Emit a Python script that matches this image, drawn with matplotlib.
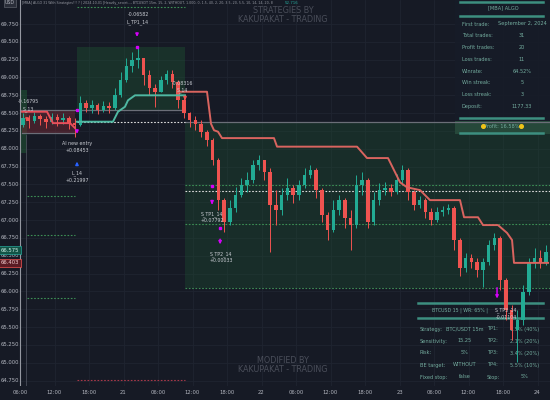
import matplotlib
matplotlib.use("Agg")
import matplotlib.pyplot as plt
from matplotlib.patches import Rectangle
from matplotlib import font_manager
import matplotlib.transforms as mtrans

names = {f.name for f in font_manager.fontManager.ttflist}
if 'Liberation Sans Narrow' in names:
    plt.rcParams['font.family'] = ['Liberation Sans Narrow', 'DejaVu Sans']
else:
    plt.rcParams['font.family'] = ['DejaVu Sans']

# hourly candles from 20th 06:00
first_open = 68.33
close = [68.43, 68.39, 68.46, 68.42, 68.38, 68.45, 68.40, 68.43, 68.36, 68.33,
         68.64, 68.57, 68.61, 68.54, 68.60, 68.57, 68.75, 68.96, 69.16, 69.25,
         69.27, 69.03, 68.85, 68.80, 68.96, 69.05, 68.94, 68.68, 68.50, 68.40,
         68.35, 68.24, 68.12, 67.84, 67.28, 66.97, 67.17, 67.35, 67.49, 67.56,
         67.77, 67.84, 67.67, 67.21, 67.14, 67.35, 67.45, 67.35, 67.49, 67.63,
         67.70, 67.42, 67.07, 66.86, 67.14, 67.28, 67.03, 66.93, 67.49, 67.56,
         66.97, 67.28, 67.42, 67.45, 67.39, 67.56, 67.70, 67.39, 67.21, 67.28,
         67.11, 67.00, 67.11, 67.14, 67.17, 66.72, 66.33, 66.47, 66.41, 66.30,
         66.41, 66.65, 66.75, 66.16, 65.74, 65.46, 65.60, 65.99, 66.41, 66.47,
         66.41, 66.55]
high = [68.50, 68.47, 68.52, 68.49, 68.46, 68.50, 68.49, 68.50, 68.46, 68.43,
        68.74, 68.68, 68.68, 68.64, 68.67, 68.66, 68.85, 69.08, 69.27, 69.36,
        69.43, 69.27, 69.10, 68.91, 69.02, 69.10, 69.10, 68.96, 68.71, 68.52,
        68.46, 68.40, 68.26, 68.15, 67.87, 67.31, 67.28, 67.46, 67.59, 67.67,
        67.84, 67.91, 67.84, 67.73, 67.42, 67.45, 67.59, 67.49, 67.56, 67.73,
        67.77, 67.73, 67.45, 67.11, 67.28, 67.35, 67.31, 67.14, 67.63, 67.67,
        67.59, 67.39, 67.52, 67.53, 67.51, 67.65, 67.77, 67.73, 67.42, 67.34,
        67.31, 67.17, 67.18, 67.20, 67.23, 67.20, 66.75, 66.54, 66.52, 66.47,
        66.47, 66.72, 66.82, 66.78, 66.19, 65.81, 65.74, 66.09, 66.47, 66.61,
        66.58, 66.65]
low = [68.31, 68.29, 68.36, 68.33, 68.29, 68.35, 68.32, 68.35, 68.28, 68.17,
       68.32, 68.52, 68.50, 68.49, 68.52, 68.50, 68.54, 68.73, 68.94, 69.08,
       69.13, 68.89, 68.75, 68.59, 68.80, 68.91, 68.85, 68.57, 68.43, 68.31,
       68.26, 68.17, 68.04, 67.77, 67.14, 66.83, 66.93, 67.11, 67.32, 67.39,
       67.52, 67.70, 67.56, 66.55, 66.93, 67.07, 67.28, 67.24, 67.28, 67.45,
       67.59, 67.31, 66.97, 66.72, 66.83, 67.07, 66.89, 66.58, 66.89, 67.35,
       66.89, 66.93, 67.21, 67.35, 67.34, 67.37, 67.52, 67.28, 67.14, 67.17,
       67.03, 66.93, 66.97, 67.06, 67.09, 66.58, 66.22, 66.27, 66.33, 66.20,
       66.06, 66.37, 66.58, 66.02, 65.60, 65.32, 65.01, 65.53, 65.95, 66.33,
       66.33, 66.37]

price_ticks = [69.75, 69.5, 69.25, 69.0, 68.75, 68.5, 68.25, 68.0, 67.75, 67.5,
               67.25, 67.0, 66.75, 66.5, 66.25, 66.0, 65.75, 65.5, 65.25, 65.0, 64.75]
time_ticks = [0, 6, 12, 18, 24, 30, 36, 42, 48, 54, 60, 66, 72, 78, 84, 90]
time_labels = ['06:00', '12:00', '18:00', '21', '06:00', '12:00', '18:00', '22',
               '06:00', '12:00', '18:00', '23', '06:00', '12:00', '18:00', '24']

# trailing stops
red_a_t = [0.35, 4.7, 5.74, 8.7, 9.57]
red_a_p = [68.52, 68.52, 68.36, 68.36, 68.29]
red_b_t = [27.4, 32.52, 33.22, 33.74, 34.43, 35.13, 44.17, 44.70, 58.61, 60.35,
           64.0, 66.09, 67.30, 69.57, 71.30, 76.52, 77.22, 79.65, 80.52, 83.13,
           84.70, 85.57, 85.91, 91.83]
red_b_p = [68.80, 68.80, 68.35, 68.26, 68.24, 68.15, 68.15, 68.03, 68.03, 67.87,
           67.87, 67.53, 67.46, 67.42, 67.28, 67.28, 67.04, 67.04, 66.93, 66.93,
           66.82, 66.72, 66.40, 66.40]
teal_t = [9.91, 16.17, 17.04, 18.26, 18.78, 20.0, 28.7]
teal_p = [68.38, 68.38, 68.52, 68.59, 68.68, 68.75, 68.75]

stats_labels = ['First trade:', 'Total trades:', 'Profit trades:', 'Loss trades:',
                'Winrate:', 'Win streak:', 'Loss streak:', 'Deposit:']
stats_values = ['September 2, 2024', '31', '20', '11', '64.52%', '5', '3', '1177.33']
set_rows = [['Strategy:', 'BTC/USDT 15m', 'TP1:', '1.5% (40%)'],
            ['Sensitivity:', '15.25', 'TP2:', '2.1% (20%)'],
            ['Risk:', '5%', 'TP3:', '3.4% (20%)'],
            ['BE target:', 'WITHOUT', 'TP4:', '5.5% (10%)'],
            ['Fixed stop:', 'false', 'Stop:', '5%']]

BG = '#161a25'
UP = '#22ab94'
DN = '#ef5350'
TXT = '#c9ccd3'
TBL = '#74ad9f'
MAG = '#d500f9'

fig = plt.figure(figsize=(5.5, 4), dpi=100, facecolor=BG)
ax = fig.add_axes([0, 14 / 400, 1, 386 / 400])
ax.set_facecolor(BG)
ax.set_xlim(-3.478, 92.17)
ax.set_ylim(64.673, 70.087)
for s in ax.spines.values():
    s.set_visible(False)
ax.set_xticks([])
ax.set_yticks([])

def ap(x, y):
    # pixel position -> axes fraction
    return x / 550, (386 - y) / 386

yb = mtrans.blended_transform_factory(ax.transAxes, ax.transData)
xb = mtrans.blended_transform_factory(ax.transData, ax.transAxes)

for p in price_ticks:
    ax.axhline(p, color='#1f2430', lw=0.6, zorder=0)
for t in time_ticks:
    ax.axvline(t, color='#1f2430', lw=0.6, zorder=0)

# trade zones
ax.add_patch(Rectangle((0, 67.94), 1.22, 0.88, color='#1f5a34', alpha=0.5, lw=0, zorder=1))
ax.add_patch(Rectangle((0.35, 68.22), 9.22, 0.32, color='#7a2a35', alpha=0.45, lw=0, zorder=1))
ax.add_patch(Rectangle((9.9, 68.54), 18.8, 0.89, color='#1f5a34', alpha=0.36, lw=0, zorder=1))
ax.add_patch(Rectangle((28.7, 66.05), 64, 2.33, color='#1f5a34', alpha=0.3, lw=0, zorder=1))

ax.plot([0, 28.7], [68.54, 68.54], color='#6b6e78', lw=0.9, zorder=2)
ax.plot([0.35, 9.57], [68.22, 68.22], color='#6b6e78', lw=0.9, zorder=2)
ax.plot([28.7, 92.2], [68.38, 68.38], color='#6b6e78', lw=0.9, zorder=2)
ax.plot([9.9, 28.7], [68.38, 68.38], color='#e0e0e0', lw=0.8, ls=(0, (1.5, 1.5)), zorder=2.5)
ax.plot([9.9, 28.7], [69.99, 69.99], color='#3d8f55', lw=0.8, ls=(0, (1.5, 1.5)), zorder=2)
ax.plot([9.9, 28.7], [64.76, 64.76], color='#a8384a', lw=0.8, ls=(0, (1.5, 1.5)), zorder=2)
for lv in [67.34, 66.79, 65.91]:
    ax.plot([1.2, 9.57], [lv, lv], color='#3d8f55', lw=0.8, ls=(0, (1.5, 1.5)), zorder=2)
for lv in [67.49, 66.95, 66.05]:
    ax.plot([28.7, 92.2], [lv, lv], color='#3d8f55', lw=0.8, ls=(0, (1.5, 1.5)), zorder=2)
ax.plot([28.7, 92.2], [67.41, 67.41], color='#dcdcdc', lw=0.8, ls=(0, (1.5, 1.5)), zorder=2)

# tables (drawn under candles)
ax.add_patch(Rectangle(ap(455, 134), 95 / 550, 134 / 386, transform=ax.transAxes,
                       color='#171c28', alpha=0.9, lw=0, zorder=1.5))
ax.add_patch(Rectangle(ap(455, 134), 95 / 550, 13 / 386, transform=ax.transAxes,
                       color='#26483a', lw=0, zorder=1.6))
for yy in [2, 16, 118, 133]:
    ax.plot([460 / 550, 543 / 550], [ap(0, yy)[1]] * 2, transform=ax.transAxes,
            color='#3d8f80', lw=1.8, zorder=1.7)
ax.text(*ap(503, 8), '[MBA] ALGO', transform=ax.transAxes, ha='center', va='center',
        fontsize=3.6, color=TBL, zorder=1.8)
for i, (lab, val) in enumerate(zip(stats_labels, stats_values)):
    yy = 24 + i * 11.8
    ax.text(*ap(462, yy), lab, transform=ax.transAxes, ha='left', va='center',
            fontsize=3.6, color=TBL, zorder=1.8)
    ax.text(*ap(522, yy), val, transform=ax.transAxes, ha='center', va='center',
            fontsize=3.6, color=TBL, zorder=1.8)
ax.text(*ap(502, 126), 'Profit: 16.58%', transform=ax.transAxes, ha='center',
        va='center', fontsize=3.6, color=TBL, zorder=1.8)
for xx in [483, 521]:
    ax.plot(*ap(xx, 126), marker='o', ms=2.6, mfc='#f0c419', mec='#f0c419',
            transform=ax.transAxes, zorder=1.8)

for yy in [303, 318]:
    ax.plot([418 / 550, 543 / 550], [ap(0, yy)[1]] * 2, transform=ax.transAxes,
            color='#3d8f80', lw=1.8, zorder=1.7)
ax.text(*ap(432, 310), 'BTCUSD 15 | WR: 65% |', transform=ax.transAxes,
        ha='left', va='center', fontsize=3.4, color=TBL, zorder=1.8)
for i, row in enumerate(set_rows):
    yy = 329 + i * 12
    ax.text(*ap(420, yy), row[0], transform=ax.transAxes, ha='left', va='center',
            fontsize=3.6, color=TBL, zorder=1.8)
    ax.text(*ap(465, yy), row[1], transform=ax.transAxes, ha='center', va='center',
            fontsize=3.6, color=TBL, zorder=1.8)
    ax.text(*ap(487, yy), row[2], transform=ax.transAxes, ha='left', va='center',
            fontsize=3.6, color=TBL, zorder=1.8)
    ax.text(*ap(525, yy), row[3], transform=ax.transAxes, ha='center', va='center',
            fontsize=3.6, color=TBL, zorder=1.8)

# watermarks
ax.text(*ap(283, 15), 'STRATEGIES BY\nKAKUPAKAT - TRADING', transform=ax.transAxes,
        ha='center', va='center', fontsize=5.8, color='#4a4e5a', linespacing=1.0, zorder=1.8)
ax.text(*ap(283, 365), 'MODIFIED BY\nKAKUPAKAT - TRADING', transform=ax.transAxes,
        ha='center', va='center', fontsize=5.8, color='#4a4e5a', linespacing=1.0, zorder=1.8)

# candles
opens = [first_open] + close[:-1]
for i, (o, h, l, c) in enumerate(zip(opens, high, low, close)):
    col = UP if c >= o else DN
    ax.vlines(i + 0.5, l, h, color=col, lw=0.7, zorder=4)
    ax.add_patch(Rectangle((i + 0.2, min(o, c)), 0.6, max(abs(c - o), 0.012),
                           color=col, lw=0, zorder=4))

# trailing stops
ax.plot(red_a_t, red_a_p, color='#e8505b', lw=1.4, zorder=5)
ax.plot(red_b_t, red_b_p, color='#d9645f', lw=1.4, zorder=5)
ax.plot(teal_t, teal_p, color='#4fb8a2', lw=1.4, zorder=5)

# signal arrows
def arrow(t, p0, p1, col):
    ax.annotate('', xy=(t, p1), xytext=(t, p0),
                arrowprops=dict(arrowstyle='-|>', color=col, lw=1.1, mutation_scale=4),
                zorder=6)

arrow(20.35, 69.66, 69.53, MAG)
arrow(9.91, 68.30, 68.17, MAG)
arrow(33.4, 67.30, 67.18, MAG)
arrow(34.8, 66.77, 66.62, MAG)
arrow(82.96, 66.09, 65.86, MAG)
arrow(9.91, 67.73, 67.86, '#2962ff')
arrow(1.22, 68.46, 68.34, DN)
arrow(28.7, 68.76, 68.64, DN)
for t, p in [(20.35, 69.43), (9.91, 68.54), (33.4, 67.48), (34.8, 66.89)]:
    ax.plot(t, p, marker='s', ms=2, color=MAG, zorder=6)

notes = [(20.52, 69.88, '-0.06582'), (20.52, 69.78, 'L_TP1_14'),
         (1.39, 68.66, '-0.16795'), (1.39, 68.56, 'S_13'),
         (28.17, 68.91, '-0.08316'), (28.17, 68.82, 'S_14'),
         (9.91, 68.08, 'AI new entry'), (9.91, 67.97, '+0.08453'),
         (9.91, 67.66, 'L_14'), (9.91, 67.55, '+0.21997'),
         (33.4, 67.09, 'S_TP1_14'), (33.4, 66.99, '+0.07792'),
         (34.96, 66.52, 'S_TP2_14'), (34.96, 66.43, '+0.00033'),
         (84.6, 65.74, 'S_TP3_14'), (84.6, 65.63, '-0.01104')]
for t, p, s in notes:
    ax.text(t, p, s, ha='center', va='center', fontsize=3.4, color=TXT, zorder=7)

# price scale
for p in price_ticks:
    ax.text(10 / 550, p, f'{p:.3f}', transform=yb, ha='center', va='center',
            fontsize=3.8, color='#b2b5be', zorder=8)
ax.text(10 / 550, 66.58, '66.575', transform=yb, ha='center', va='center', fontsize=3.8,
        color='#d1f2ea', zorder=9,
        bbox=dict(boxstyle='square,pad=0.25', fc='#135446', ec='#26a69a', lw=0.5))
ax.text(10 / 550, 66.40, '66.403', transform=yb, ha='center', va='center', fontsize=3.8,
        color='#f5d0d3', zorder=9,
        bbox=dict(boxstyle='square,pad=0.25', fc='#5a1c24', ec='#ef5350', lw=0.5))
ax.text(*ap(10, 3), 'USD', transform=ax.transAxes, ha='center', va='center', fontsize=3.4,
        color='#b2b5be', zorder=9,
        bbox=dict(boxstyle='square,pad=0.25', fc='#2a2e39', ec='#6b6e78', lw=0.4))
ax.axvline(3.5 / 550, color='#9598a1', lw=0.8, zorder=8)
ax.axvline(547.5 / 550, ymax=0.65, color='#4a4e5a', lw=0.6, zorder=8)

for t, lab in zip(time_ticks, time_labels):
    ax.text(t, -7 / 386, lab, transform=xb, ha='center', va='center', fontsize=3.8,
            color='#b2b5be', clip_on=False)

# header line
ax.text(*ap(22, 3), '[MBA] ALGO 31 With Strategies!!! ? | 2024-10-01 [Heavily_secret..., '
        'BTCUSDT 15m, 15, 2, WITHOUT, 1.000, 0, 1.5, 40, 2, 20, 3.5, 20, 5.5, 10, 14, 14, 20, 8',
        transform=ax.transAxes, ha='left', va='center', fontsize=2.3, color='#9598a1', zorder=9)
ax.text(*ap(292, 3), '52.716', transform=ax.transAxes, ha='center', va='center',
        fontsize=2.9, color='#26a69a', zorder=9)

fig.savefig('out.png', dpi=100, facecolor=BG)
